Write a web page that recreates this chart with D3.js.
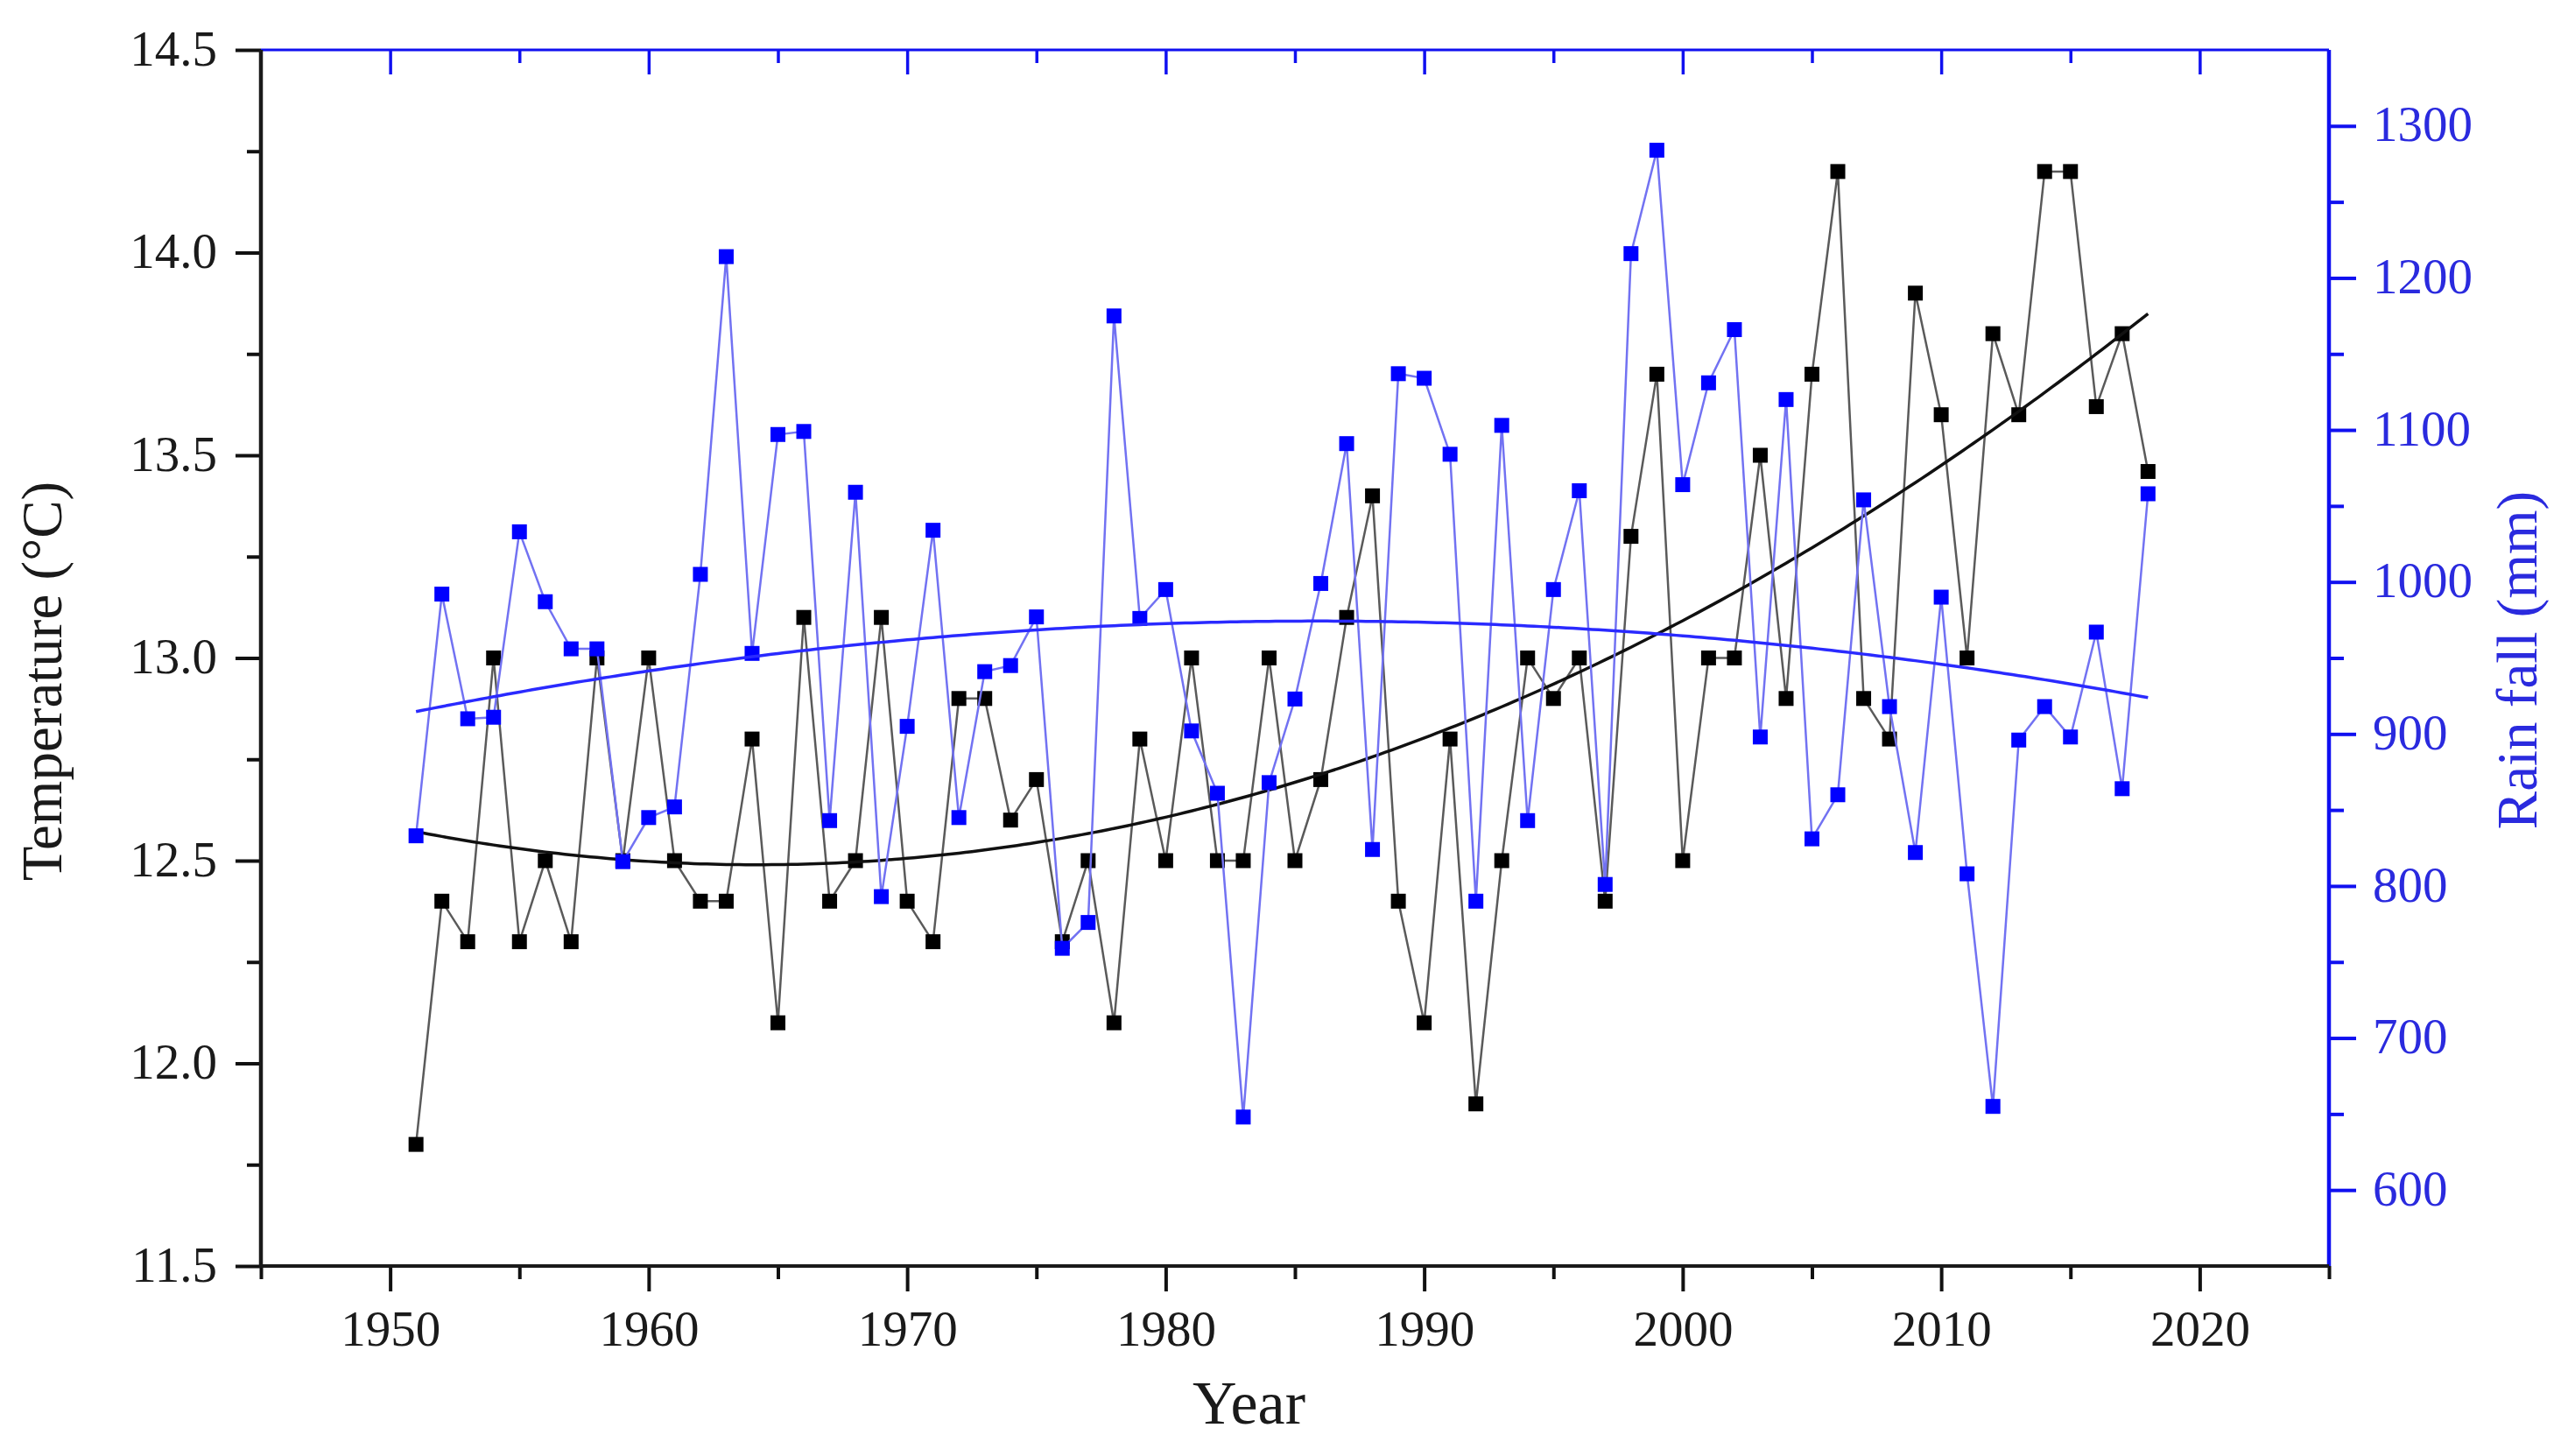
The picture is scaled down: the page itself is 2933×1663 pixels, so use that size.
<!DOCTYPE html>
<html>
<head>
<meta charset="utf-8">
<script src="https://cdn.jsdelivr.net/npm/d3@7"></script>
<style>
  html, body { margin: 0; padding: 0; background: #fff; }
  svg { display: block; }
  text { font-family: "Liberation Serif", "Times New Roman", serif; }
</style>
</head>
<body>
<svg id="chart"></svg>
<script>
// data
const years = [
  1951, 1952, 1953, 1954, 1955, 1956, 1957, 1958, 1959, 1960,
  1961, 1962, 1963, 1964, 1965, 1966, 1967, 1968, 1969, 1970,
  1971, 1972, 1973, 1974, 1975, 1976, 1977, 1978, 1979, 1980,
  1981, 1982, 1983, 1984, 1985, 1986, 1987, 1988, 1989, 1990,
  1991, 1992, 1993, 1994, 1995, 1996, 1997, 1998, 1999, 2000,
  2001, 2002, 2003, 2004, 2005, 2006, 2007, 2008, 2009, 2010,
  2011, 2012, 2013, 2014, 2015, 2016, 2017, 2018
];
const temperature = [
  11.8, 12.4, 12.3, 13.0, 12.3, 12.5, 12.3, 13.0, 12.5, 13.0,
  12.5, 12.4, 12.4, 12.8, 12.1, 13.1, 12.4, 12.5, 13.1, 12.4,
  12.3, 12.9, 12.9, 12.6, 12.7, 12.3, 12.5, 12.1, 12.8, 12.5,
  13.0, 12.5, 12.5, 13.0, 12.5, 12.7, 13.1, 13.4, 12.4, 12.1,
  12.8, 11.9, 12.5, 13.0, 12.9, 13.0, 12.4, 13.3, 13.7, 12.5,
  13.0, 13.0, 13.5, 12.9, 13.7, 14.2, 12.9, 12.8, 13.9, 13.6,
  13.0, 13.8, 13.6, 14.2, 14.2, 13.62, 13.8, 13.46
];
const rainfall = [
  833, 992, 910, 911, 1033, 987, 956, 956, 816, 845,
  852, 1005, 1214, 953, 1097, 1099, 843, 1059, 793, 905,
  1034, 845, 941, 945, 977, 759, 776, 1175, 976, 995,
  902, 861, 648, 868, 923, 999, 1091, 824, 1137, 1134,
  1084, 790, 1103, 843, 995, 1060, 801, 1216, 1284, 1064,
  1131, 1166, 898, 1120, 831, 860, 1054, 918, 822, 990,
  808, 655, 896, 918, 898, 967, 864, 1058
];

const yearTicks = [1950, 1960, 1970, 1980, 1990, 2000, 2010, 2020];
const yearMinorTicks = [1945, 1955, 1965, 1975, 1985, 1995, 2005, 2015, 2025];
const tempTicks = [11.5, 12.0, 12.5, 13.0, 13.5, 14.0, 14.5];
const tempMinorTicks = [11.75, 12.25, 12.75, 13.25, 13.75, 14.25];
const rainTicks = [600, 700, 800, 900, 1000, 1100, 1200, 1300];
const rainMinorTicks = [650, 750, 850, 950, 1050, 1150, 1250];

const width = 2933;
const height = 1663;
const plot = { left: 298, right: 2660, top: 57, bottom: 1446 };

const black = "#111";
const blue = "#1010f0";
const blueText = "#2a2ade";

const svg = d3.select("#chart")
  .attr("width", width)
  .attr("height", height);

const x = d3.scaleLinear().domain([1945, 2025]).range([plot.left, plot.right]);
const yT = d3.scaleLinear().domain([11.5, 14.5]).range([plot.bottom, plot.top]);
const yR = d3.scaleLinear().domain([550, 1350]).range([plot.bottom, plot.top]);

// least squares quadratic, x centred for stability
function quadFit(xs, ys) {
  const mx = d3.mean(xs);
  const S = [[0, 0, 0], [0, 0, 0], [0, 0, 0]];
  const b = [0, 0, 0];
  xs.forEach((xv, i) => {
    const u = xv - mx;
    const p = [1, u, u * u];
    for (let r = 0; r < 3; r++) {
      for (let c = 0; c < 3; c++) S[r][c] += p[r] * p[c];
      b[r] += p[r] * ys[i];
    }
  });
  // gaussian elimination
  for (let k = 0; k < 3; k++) {
    for (let r = k + 1; r < 3; r++) {
      const f = S[r][k] / S[k][k];
      for (let c = k; c < 3; c++) S[r][c] -= f * S[k][c];
      b[r] -= f * b[k];
    }
  }
  const coef = [0, 0, 0];
  for (let r = 2; r >= 0; r--) {
    let s = b[r];
    for (let c = r + 1; c < 3; c++) s -= S[r][c] * coef[c];
    coef[r] = s / S[r][r];
  }
  return xv => coef[0] + coef[1] * (xv - mx) + coef[2] * (xv - mx) * (xv - mx);
}

const tempFit = quadFit(years, temperature);
const rainFit = quadFit(years, rainfall);
const fitX = d3.range(years[0], years[years.length - 1] + 0.001, 0.25);

// ---- axes ----
function styleAxis(g, color, strokeW) {
  g.select(".domain").remove();
  g.selectAll(".tick line").attr("stroke", color).attr("stroke-width", strokeW);
  g.selectAll(".tick text")
    .attr("fill", color)
    .style("font-size", "57px")
    .style("font-family", '"Liberation Serif", "Times New Roman", serif');
}

// bottom
const gBottom = svg.append("g").attr("transform", `translate(0,${plot.bottom})`);
gBottom.append("g")
  .call(d3.axisBottom(x).tickValues(yearMinorTicks).tickSize(15).tickSizeOuter(0).tickFormat(""))
  .call(g => styleAxis(g, black, 4));
gBottom.append("g")
  .call(d3.axisBottom(x).tickValues(yearTicks).tickSize(29).tickSizeOuter(0).tickFormat(d3.format("d")))
  .call(g => styleAxis(g, black, 4))
  .call(g => g.selectAll(".tick text").attr("y", 91).attr("dy", 0).attr("fill", "#1a1a1a"));

// top
const gTop = svg.append("g").attr("transform", `translate(0,${plot.top})`);
gTop.append("g")
  .call(d3.axisTop(x).tickValues(yearMinorTicks.slice(1, -1)).tickSize(-15).tickSizeOuter(0).tickFormat(""))
  .call(g => styleAxis(g, blue, 3.5));
gTop.append("g")
  .call(d3.axisTop(x).tickValues(yearTicks).tickSize(-28).tickSizeOuter(0).tickFormat(""))
  .call(g => styleAxis(g, blue, 3.5));

// left
const gLeft = svg.append("g").attr("transform", `translate(${plot.left},0)`);
gLeft.append("g")
  .call(d3.axisLeft(yT).tickValues(tempMinorTicks).tickSize(16).tickSizeOuter(0).tickFormat(""))
  .call(g => styleAxis(g, black, 4));
gLeft.append("g")
  .call(d3.axisLeft(yT).tickValues(tempTicks).tickSize(29).tickPadding(21).tickSizeOuter(0).tickFormat(d3.format(".1f")))
  .call(g => styleAxis(g, black, 4))
  .call(g => g.selectAll(".tick text").attr("dy", "0.3em").attr("fill", "#1a1a1a"));

// right
const gRight = svg.append("g").attr("transform", `translate(${plot.right},0)`);
gRight.append("g")
  .call(d3.axisRight(yR).tickValues(rainMinorTicks).tickSize(17).tickSizeOuter(0).tickFormat(""))
  .call(g => styleAxis(g, blue, 4));
gRight.append("g")
  .call(d3.axisRight(yR).tickValues(rainTicks).tickSize(31).tickPadding(19).tickSizeOuter(0).tickFormat(d3.format("d")))
  .call(g => styleAxis(g, blue, 4))
  .call(g => g.selectAll(".tick text").attr("dy", "0.3em").attr("fill", blueText));

// frame lines
svg.append("line")
  .attr("x1", plot.left).attr("x2", plot.right)
  .attr("y1", plot.top).attr("y2", plot.top)
  .attr("stroke", blue).attr("stroke-width", 3);
svg.append("line")
  .attr("x1", plot.right).attr("x2", plot.right)
  .attr("y1", plot.top).attr("y2", plot.bottom)
  .attr("stroke", blue).attr("stroke-width", 4.5);
svg.append("line")
  .attr("x1", plot.left - 2).attr("x2", plot.right)
  .attr("y1", plot.bottom).attr("y2", plot.bottom)
  .attr("stroke", "#1a1a1a").attr("stroke-width", 4);
svg.append("line")
  .attr("x1", plot.left).attr("x2", plot.left)
  .attr("y1", plot.top).attr("y2", plot.bottom + 2)
  .attr("stroke", "#1a1a1a").attr("stroke-width", 4.5);

// ---- series ----
const markerSize = 17;

const tempLine = d3.line().x((d, i) => x(years[i])).y(d => yT(d));
const rainLine = d3.line().x((d, i) => x(years[i])).y(d => yR(d));

svg.append("path")
  .datum(temperature)
  .attr("d", tempLine)
  .attr("fill", "none")
  .attr("stroke", "#5a5a5a")
  .attr("stroke-width", 2.5);

svg.append("g").selectAll("rect")
  .data(temperature)
  .join("rect")
  .attr("x", (d, i) => x(years[i]) - markerSize / 2)
  .attr("y", d => yT(d) - markerSize / 2)
  .attr("width", markerSize)
  .attr("height", markerSize)
  .attr("fill", "#000");

svg.append("path")
  .datum(fitX)
  .attr("d", d3.line().x(d => x(d)).y(d => yT(tempFit(d))))
  .attr("fill", "none")
  .attr("stroke", black)
  .attr("stroke-width", 3.5);

svg.append("path")
  .datum(rainfall)
  .attr("d", rainLine)
  .attr("fill", "none")
  .attr("stroke", "#7272f2")
  .attr("stroke-width", 2.5);

svg.append("g").selectAll("rect")
  .data(rainfall)
  .join("rect")
  .attr("x", (d, i) => x(years[i]) - markerSize / 2)
  .attr("y", d => yR(d) - markerSize / 2)
  .attr("width", markerSize)
  .attr("height", markerSize)
  .attr("fill", "#0000ff");

svg.append("path")
  .datum(fitX)
  .attr("d", d3.line().x(d => x(d)).y(d => yR(rainFit(d))))
  .attr("fill", "none")
  .attr("stroke", "#2a2aff")
  .attr("stroke-width", 3.5);

// ---- titles ----
svg.append("text")
  .attr("transform", "translate(70,778) rotate(-90)")
  .attr("text-anchor", "middle")
  .attr("fill", "#1a1a1a")
  .style("font-size", "65px")
  .text("Temperature (°C)");

svg.append("text")
  .attr("transform", "translate(2897,754) rotate(-90)")
  .attr("text-anchor", "middle")
  .attr("fill", blueText)
  .style("font-size", "65px")
  .text("Rain fall (mm)");

svg.append("text")
  .attr("x", 1362)
  .attr("y", 1626)
  .attr("fill", "#1a1a1a")
  .style("font-size", "70px")
  .text("Year");
</script>
</body>
</html>
